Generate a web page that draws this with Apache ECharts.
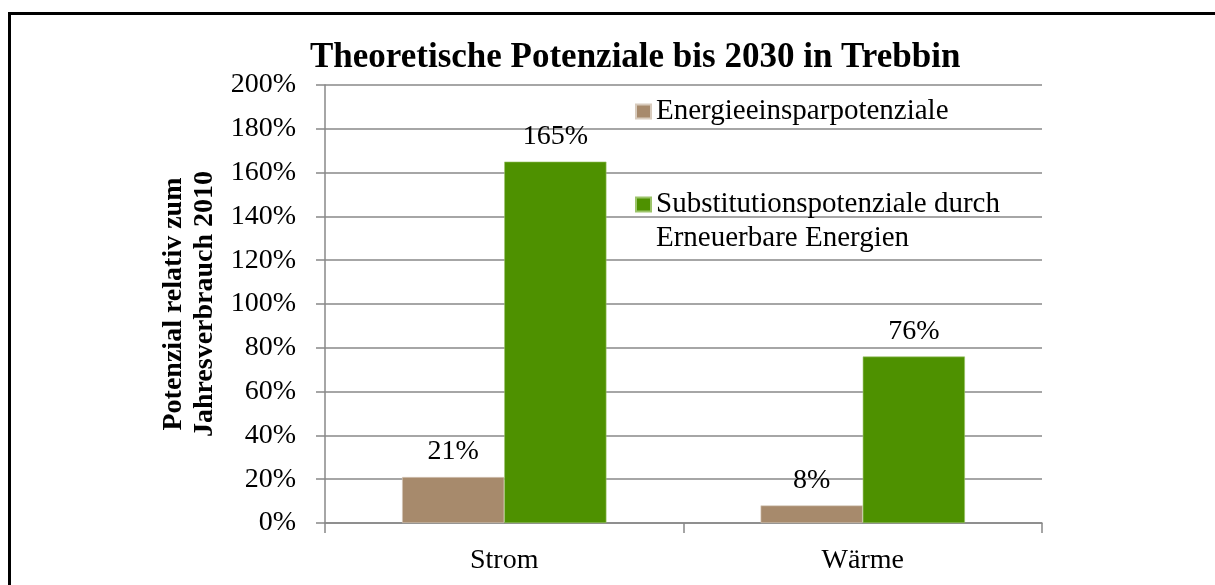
<!DOCTYPE html>
<html><head><meta charset="utf-8">
<script src="https://cdn.jsdelivr.net/npm/echarts@6/dist/echarts.min.js"></script>
<style>html,body{margin:0;padding:0;background:#fff}#c{width:1215px;height:585px}</style>
</head><body><div id="c"></div>
<script>
const titleText = 'Theoretische Potenziale bis 2030 in Trebbin';
const categories = ['Strom', 'Wärme'];
const seriesNames = ['Energieeinsparpotenziale', 'Substitutionspotenziale durch Erneuerbare Energien'];
const einsparValues = [21, 8];
const substitutionValues = [165, 76];
const yTicks = [0, 20, 40, 60, 80, 100, 120, 140, 160, 180, 200];
const yAxisName = 'Potenzial relativ zum\nJahresverbrauch 2010';
const colors = ['#A78A6C', '#4E9100'];

const FONT = 'Liberation Serif';
const chart = echarts.init(document.getElementById('c'));
chart.setOption({
  animation: false,
  backgroundColor: '#fff',
  title: {
    text: titleText, left: 310, top: 40, padding: 0,
    textStyle: {fontFamily: FONT, fontSize: 35, fontWeight: 'bold', color: '#000'}
  },
  graphic: [
    {type: 'rect', shape: {x: 9.5, y: 13.5, width: 1300, height: 700}, style: {fill: null, stroke: '#000', lineWidth: 3}, silent: true},
    {type: 'text', left: 656, top: 224, style: {text: 'Erneuerbare Energien', font: '29px "Liberation Serif"', fill: '#000'}}
  ],
  legend: [
    {data: [seriesNames[0]], left: 635, top: 97, padding: 0, itemWidth: 15, itemHeight: 14, icon: 'rect',
     textStyle: {fontFamily: FONT, fontSize: 29, color: '#000'}},
    {data: [seriesNames[1]], left: 635, top: 190, padding: 0, itemWidth: 15, itemHeight: 14, icon: 'rect',
     formatter: () => 'Substitutionspotenziale durch',
     textStyle: {fontFamily: FONT, fontSize: 29, color: '#000'}}
  ],
  grid: {left: 325, right: 173, top: 85, bottom: 62, containLabel: false},
  xAxis: {
    type: 'category', data: categories,
    axisLine: {lineStyle: {color: '#888', width: 1.5}},
    axisTick: {show: true, length: 10, lineStyle: {color: '#888', width: 1.5}},
    axisLabel: {fontFamily: FONT, fontSize: 28, color: '#000', margin: 24}
  },
  yAxis: {
    type: 'value', min: yTicks[0], max: yTicks[yTicks.length - 1], interval: yTicks[1] - yTicks[0],
    name: yAxisName, nameLocation: 'middle', nameRotate: 90, nameGap: 98,
    nameTextStyle: {fontFamily: FONT, fontSize: 28, fontWeight: 'bold', color: '#000', lineHeight: 31},
    axisLine: {show: true, lineStyle: {color: '#888', width: 1.5}},
    axisTick: {show: true, length: 9, lineStyle: {color: '#888', width: 1.5}},
    splitLine: {lineStyle: {color: '#888', width: 1.5}},
    axisLabel: {fontFamily: FONT, fontSize: 28, color: '#000', margin: 29, formatter: v => v + '%'}
  },
  series: [
    {name: seriesNames[0], type: 'bar', data: einsparValues, barGap: '0%', barCategoryGap: '43%',
     itemStyle: {color: colors[0], borderColor: '#d8cbbd', borderWidth: 0.6},
     label: {show: true, position: 'top', distance: 11, formatter: p => p.value + '%', fontFamily: FONT, fontSize: 28, color: '#000'}},
    {name: seriesNames[1], type: 'bar', data: substitutionValues,
     itemStyle: {color: colors[1], borderColor: '#9cc46a', borderWidth: 0.6},
     label: {show: true, position: 'top', distance: 11, formatter: p => p.value + '%', fontFamily: FONT, fontSize: 28, color: '#000'}}
  ]
});
</script></body></html>
